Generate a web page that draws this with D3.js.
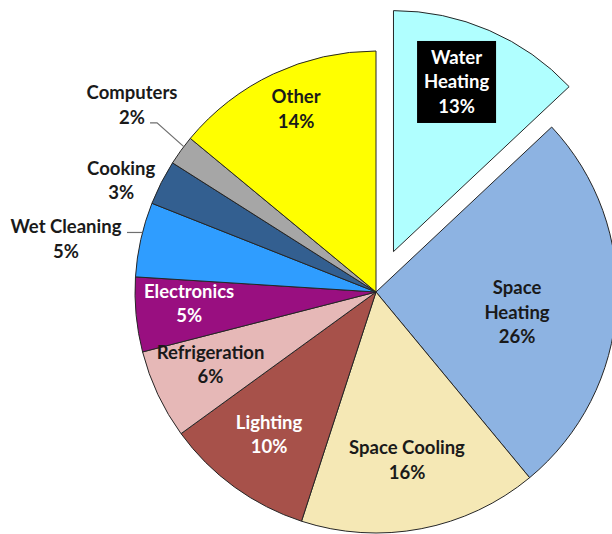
<!DOCTYPE html>
<html>
<head>
<meta charset="utf-8">
<script src="https://cdn.jsdelivr.net/npm/d3@7/dist/d3.min.js"></script>
<style>
  html, body { margin: 0; padding: 0; background: #fff; }
  svg { display: block; }
  text { font-family: Lato, "Open Sans", sans-serif; font-weight: 700; }
</style>
</head>
<body>
<svg id="chart" width="612" height="534"></svg>
<script>
// Residential energy end use shares (percent), clockwise from 12 o'clock
const categories = ["Water Heating", "Space Heating", "Space Cooling", "Lighting",
  "Refrigeration", "Electronics", "Wet Cleaning", "Cooking", "Computers", "Other"];
const shares = [13, 26, 16, 10, 6, 5, 5, 3, 2, 14];
const colors = ["#b0ffff", "#8db3e2", "#f5e8b5", "#a7514a", "#e6b8b7",
  "#990f80", "#2f9dff", "#335f90", "#a6a6a6", "#ffff00"];

const width = 612, height = 534;
const cx = 376, cy = 292, R = 241;
const explodeDist = 44;

const svg = d3.select("#chart");
const g = svg.append("g").attr("transform", `translate(${cx},${cy})`);

const pie = d3.pie().sort(null).value(d => d.value);
const data = categories.map((c, i) => ({ name: c, value: shares[i], color: colors[i] }));
const arcs = pie(data);
const arc = d3.arc().innerRadius(0).outerRadius(R);

const rad = deg => deg * Math.PI / 180;
const mid = d => (d.startAngle + d.endAngle) / 2;
const polar = (a, r) => [Math.sin(a) * r, -Math.cos(a) * r];
const exploded = new Set(["Water Heating"]);
const offsetOf = d => exploded.has(d.data.name) ? polar(mid(d), explodeDist) : [0, 0];

// slices
g.selectAll("path.slice")
  .data(arcs)
  .join("path")
  .attr("class", "slice")
  .attr("d", arc)
  .attr("transform", d => `translate(${offsetOf(d)})`)
  .attr("fill", d => d.data.color)
  .attr("stroke", "#262626")
  .attr("stroke-width", 1);

// label placement: radius factor and angular nudge (degrees) per slice
const labelPlace = {
  "Water Heating": { r: 0.751, da: -3.0 },
  "Space Heating": { r: 0.591, da: 4.5 },
  "Space Cooling": { r: 0.709, da: 0.35 },
  "Lighting": { r: 0.739, da: 0.9 },
  "Refrigeration": { r: 0.75, da: 1.5 },
  "Electronics": { r: 0.777, da: 1.9 },
  "Wet Cleaning": { r: 1.305, da: -2.9 },
  "Cooking": { r: 1.154, da: -3.4 },
  "Computers": { r: 1.276, da: 1.5 },
  "Other": { r: 0.828, da: 1.6 }
};
const wrapped = new Set(["Water Heating", "Space Heating"]);
const whiteText = new Set(["Water Heating", "Lighting", "Electronics"]);
const lineH = 24.5;
const fontSize = 18.5;

const labelPos = d => {
  const place = labelPlace[d.data.name];
  const off = offsetOf(d);
  const p = polar(mid(d) + rad(place.da), place.r * R);
  return [p[0] + off[0], p[1] + off[1]];
};

// leader lines for the small outside labels: start on the rim, then
// run to points given relative to the label centre
const leaders = {
  "Computers": { da: 1.1, pts: [[25, 18], [18, 18]] },
  "Wet Cleaning": { da: 1.7, pts: [[61, null]] }
};
Object.entries(leaders).forEach(([name, cfg]) => {
  const d = arcs.find(a => a.data.name === name);
  const start = polar(mid(d) + rad(cfg.da), R);
  const lp = labelPos(d);
  const pts = [start].concat(cfg.pts.map(([dx, dy]) =>
    [lp[0] + dx, dy === null ? start[1] : lp[1] + dy]));
  g.append("path")
    .attr("d", d3.line()(pts))
    .attr("fill", "none")
    .attr("stroke", "#6f6f6f")
    .attr("stroke-width", 1.2);
});

arcs.forEach(d => {
  const name = d.data.name;
  const [x, y] = labelPos(d);
  const lines = (wrapped.has(name) ? name.split(" ") : [name]).concat(d.data.value + "%");
  const grp = g.append("g").attr("transform", `translate(${x},${y})`);
  if (name === "Water Heating") {
    grp.append("rect")
      .attr("x", -39.5).attr("y", -41)
      .attr("width", 79).attr("height", 82)
      .attr("fill", "#000");
  }
  const top = -(lines.length - 1) * lineH / 2;
  grp.selectAll("text")
    .data(lines)
    .join("text")
    .attr("x", 0)
    .attr("y", (t, i) => top + i * lineH)
    .attr("dy", "0.35em")
    .attr("text-anchor", "middle")
    .attr("font-size", fontSize)
    .attr("fill", whiteText.has(name) ? "#fff" : "#1a1a1a")
    .text(t => t);
});
</script>
</body>
</html>
